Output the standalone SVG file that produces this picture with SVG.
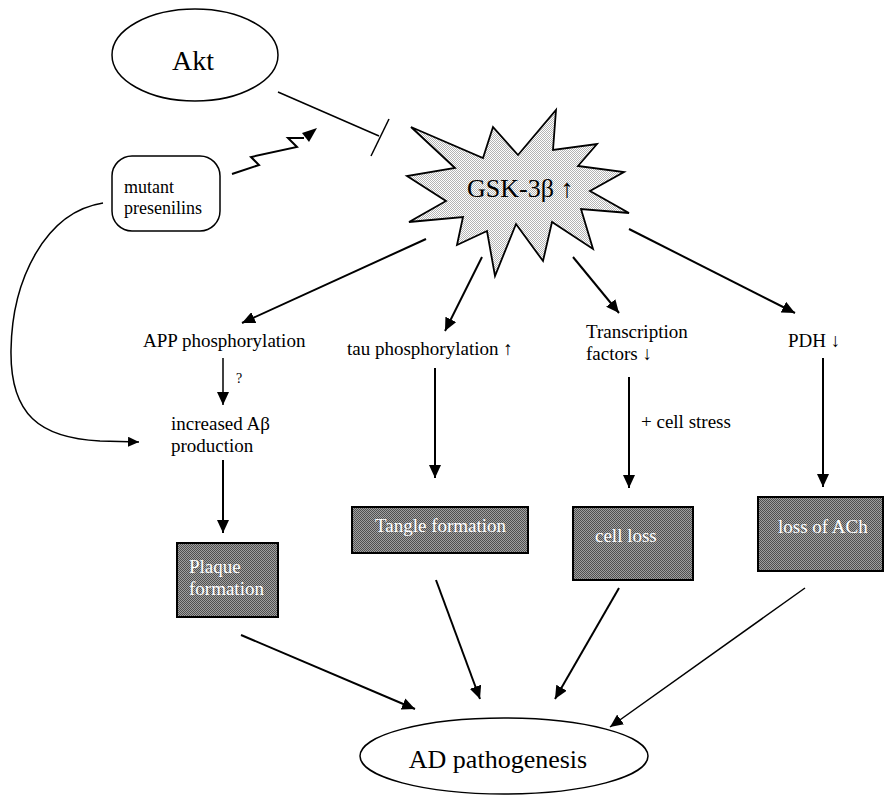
<svg xmlns="http://www.w3.org/2000/svg" width="885" height="796" viewBox="0 0 885 796">
<defs>
<pattern id="dark" width="2" height="2" patternUnits="userSpaceOnUse">
<rect width="2" height="2" fill="#a0a0a0"/>
<rect width="1" height="1" fill="#505050"/>
<rect x="1" y="1" width="1" height="1" fill="#505050"/>
</pattern>
<pattern id="light" width="2" height="2" patternUnits="userSpaceOnUse">
<rect width="2" height="2" fill="#ffffff"/>
<rect width="1" height="1" fill="#b4b4b4"/>
<rect x="1" y="1" width="1" height="1" fill="#b4b4b4"/>
</pattern>
<marker id="arr" markerUnits="userSpaceOnUse" markerWidth="14" markerHeight="12" refX="13" refY="6" orient="auto">
<path d="M0,0 L13,6 L0,12 z" fill="#000"/>
</marker>
<marker id="arrs" markerUnits="userSpaceOnUse" markerWidth="12" markerHeight="10" refX="11" refY="5" orient="auto">
<path d="M0,0 L11,5 L0,10 z" fill="#000"/>
</marker>
</defs>
<style>
text{font-family:"Liberation Serif","Times New Roman",serif;fill:#000}
.lbl{font-size:19px}
.box{fill:url(#dark);stroke:#000;stroke-width:2}
.btxt{font-size:19px;fill:#fff}
.ln{fill:none;stroke:#000;stroke-width:2}
.thin{fill:none;stroke:#000;stroke-width:1.5}
</style>

<g id="connectors">
<line class="thin" x1="278" y1="92" x2="379" y2="136"/>
<line class="thin" x1="389" y1="119" x2="371" y2="156"/>
<polyline class="ln" points="232,174 259,165 251,157 297,147 288,138 304,138"/>
<polygon points="317,128 302,133 309,142" fill="#000"/>
<path class="thin" d="M103,203 C45,212 12,280 11,350 C10,415 40,438 100,441 L139,442" marker-end="url(#arrs)"/>
<line class="ln" x1="426" y1="239" x2="242" y2="323" marker-end="url(#arr)"/>
<line class="ln" x1="482" y1="257" x2="445" y2="331" marker-end="url(#arr)"/>
<line class="ln" x1="573" y1="257" x2="619" y2="313" marker-end="url(#arr)"/>
<line class="ln" x1="629" y1="229" x2="795" y2="313" marker-end="url(#arr)"/>
<line class="thin" x1="223" y1="358" x2="223" y2="405" marker-end="url(#arr)"/>
<line class="ln" x1="223" y1="460" x2="223" y2="533" marker-end="url(#arr)"/>
<line class="ln" x1="435" y1="368" x2="435" y2="478" marker-end="url(#arr)"/>
<line class="ln" x1="629" y1="377" x2="629" y2="488" marker-end="url(#arr)"/>
<line class="ln" x1="823" y1="358" x2="823" y2="487" marker-end="url(#arr)"/>
<line class="ln" x1="241" y1="635" x2="415" y2="709" marker-end="url(#arr)"/>
<line class="ln" x1="436" y1="580" x2="480" y2="699" marker-end="url(#arr)"/>
<line class="ln" x1="619" y1="588" x2="555" y2="699" marker-end="url(#arr)"/>
<line class="thin" x1="805" y1="588" x2="610" y2="727" marker-end="url(#arr)"/>
</g>

<g id="akt">
<ellipse cx="195" cy="55" rx="83" ry="46" fill="#fff" stroke="#000" stroke-width="1.5"/>
<text x="193" y="70" font-size="28" text-anchor="middle">Akt</text>
</g>

<g id="presenilins">
<rect x="112" y="156" width="108" height="75" rx="20" ry="20" fill="#fff" stroke="#000" stroke-width="1.5"/>
<text x="124" y="193" font-size="18">mutant</text>
<text x="124" y="214" font-size="18">presenilins</text>
</g>

<g id="gsk">
<polygon points="411,127 483,158 493,127 518,155 556,110 553,150 597,144 578,166 624,172 590,191 629,213 581,209 593,249 552,222 543,261 516,224 495,276 487,231 457,245 463,217 409,222 446,201 407,176 455,168" fill="url(#light)" stroke="#000" stroke-width="1.8" stroke-linejoin="miter"/>
<text x="467" y="197" font-size="26">GSK-3β ↑</text>
</g>

<g id="app">
<text class="lbl" x="143" y="347">APP phosphorylation</text>
<text x="236" y="383" font-size="14">?</text>
</g>

<g id="abeta">
<text class="lbl" x="171" y="430">increased Aβ</text>
<text class="lbl" x="171" y="452">production</text>
</g>

<g id="tau">
<text class="lbl" x="347" y="355">tau phosphorylation ↑</text>
</g>

<g id="tf">
<text class="lbl" x="586" y="338">Transcription</text>
<text class="lbl" x="586" y="360">factors ↓</text>
<text class="lbl" x="641" y="428">+ cell stress</text>
</g>

<g id="pdh">
<text class="lbl" x="788" y="347">PDH ↓</text>
</g>

<g id="plaque">
<rect class="box" x="177" y="543" width="101" height="74"/>
<text class="btxt" x="189" y="573">Plaque</text>
<text class="btxt" x="189" y="595">formation</text>
</g>

<g id="tangle">
<rect class="box" x="352" y="507" width="176" height="46"/>
<text class="btxt" x="375" y="532">Tangle formation</text>
</g>

<g id="cellloss">
<rect class="box" x="573" y="507" width="120" height="73"/>
<text class="btxt" x="595" y="542">cell loss</text>
</g>

<g id="ach">
<rect class="box" x="758" y="497" width="125" height="74"/>
<text class="btxt" x="778" y="533">loss of ACh</text>
</g>

<g id="ad">
<ellipse cx="504" cy="756" rx="144" ry="38" fill="#fff" stroke="#000" stroke-width="1.5"/>
<text x="498" y="768" font-size="26" text-anchor="middle">AD pathogenesis</text>
</g>
</svg>
